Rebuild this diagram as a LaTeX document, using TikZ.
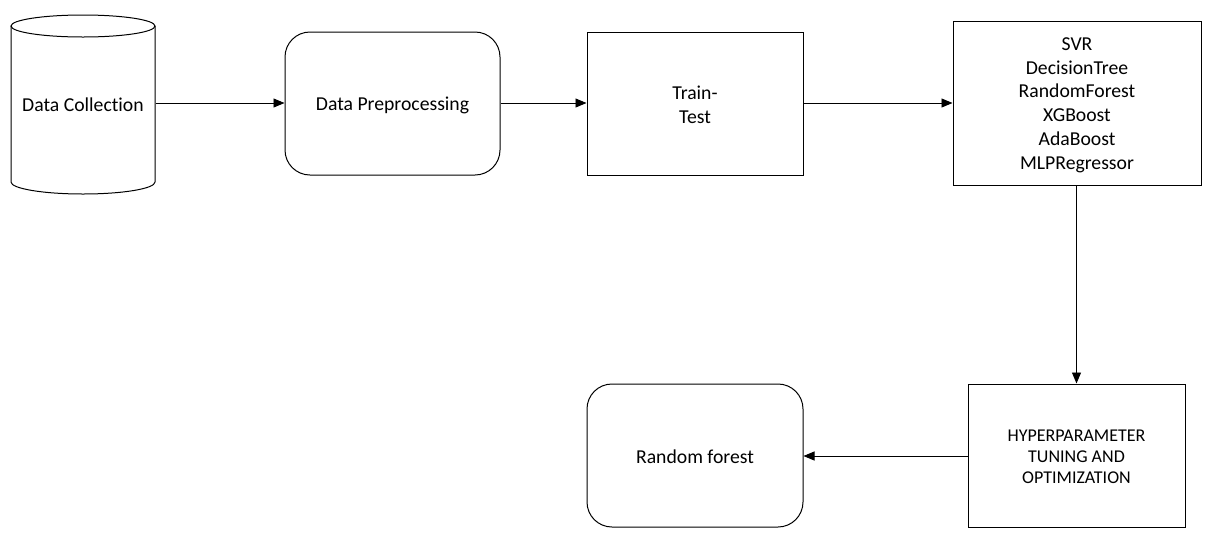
\documentclass[tikz,border=0pt]{standalone}
\usepackage{fontspec}
\setmainfont{Carlito}[Ligatures=NoCommon]
\usetikzlibrary{arrows.meta}
\begin{document}
\begin{tikzpicture}[x=1pt,y=-1pt,
  line width=1pt,
  box/.style={draw, line width=1pt, inner sep=0pt},
  txt/.style={align=center, inner sep=0pt, font=\fontsize{19.7}{23.8}\selectfont},
  rbox/.style={box, rounded corners=25pt},
  arr/.style={-{Triangle[length=11pt,width=9pt]}, line width=0.9pt},
  ]
\useasboundingbox (0,0) rectangle (1211,539);
% cylinder
\node[txt, minimum width=144pt, minimum height=168pt] (dc) at (83,105) {Data Collection};
\draw (11,26) -- (11,182) arc[start angle=180, end angle=360, x radius=72pt, y radius=12pt] -- (155,26);
\draw (83,26) ellipse[x radius=72pt, y radius=11pt];
\node[rbox, minimum width=215pt, minimum height=143pt,
  label={[txt, yshift=-2pt]center:Data Preprocessing}] (dp) at (392.5,103.5) {};
\node[box, minimum width=216pt, minimum height=143pt,
  label={[txt, yshift=-1pt]center:Train-\\Test}] (tt) at (695,103.5) {};
\node[box, minimum width=248pt, minimum height=164pt,
  label={[txt, yshift=-2pt]center:SVR\\DecisionTree\\RandomForest\\XGBoost\\AdaBoost\\MLPRegressor}] (ml) at (1077,103) {};
\node[box, minimum width=217pt, minimum height=143pt,
  label={[txt, font=\fontsize{18}{21}\selectfont, yshift=-1pt]center:HYPERPARAMETER\\TUNING AND\\OPTIMIZATION}] (hp) at (1076.5,455.5) {};
\node[rbox, minimum width=216pt, minimum height=143pt,
  label={[txt, yshift=-1pt]center:Random forest}] (rf) at (695,455.5) {};
\draw[arr] (dc.east |- 0,103) -- (dp.west |- 0,103);
\draw[arr] (dp.east |- 0,103) -- (tt.west |- 0,103);
\draw[arr] (tt.east |- 0,103) -- (ml.west |- 0,103);
\draw[arr] (ml.south -| hp.north) -- (hp.north);
\draw[arr] (hp.west |- 0,456) -- (rf.east |- 0,456);
\end{tikzpicture}
\end{document}
